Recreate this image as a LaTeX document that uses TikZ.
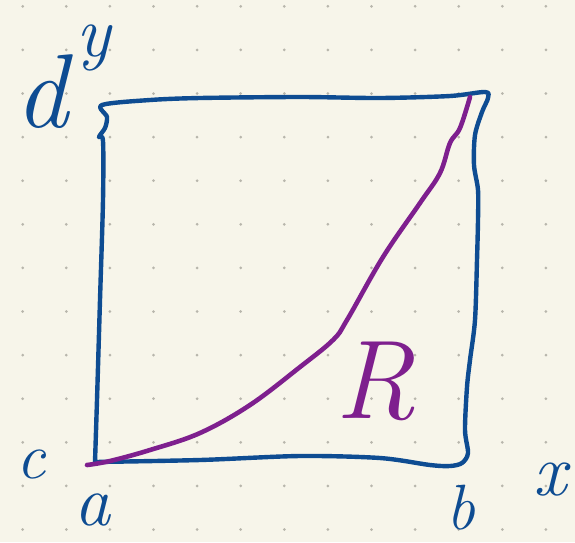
\documentclass[tikz,border=0pt]{standalone}
\usepackage{fontspec}
\definecolor{paper}{HTML}{F7F5EA}
\definecolor{ink}{HTML}{0E4C92}
\definecolor{violeta}{HTML}{7E1F8E}
\definecolor{dotgray}{HTML}{B8B6AC}
\tikzset{
  pen/.style={ink, line width=4.4pt, line cap=round, line join=round},
  hand/.style={ink, inner sep=0pt, font=\fontsize{#1}{#1}\selectfont\itshape},
}

\begin{document}
\begin{tikzpicture}[x=1pt, y=-1pt]
    % Folha pontilhada.
    \fill[paper] (0,0) rectangle (575,542);
    \useasboundingbox (0,0) rectangle (575,542);
    \foreach \i in {0,...,12} {
      \foreach \j in {0,...,12} {
        \fill[dotgray] (22.7+43.6*\i, 6.3+43.6*\j) circle (1.5pt);
      }
    }

    % Cantos do retângulo.
    \coordinate (tl) at (102,105);
    \coordinate (tr) at (485,92);
    \coordinate (br) at (462,463);
    \coordinate (bl) at (95,462);

    % Retângulo feito à mão.
    \draw[pen] plot[smooth, tension=0.5] coordinates {
      (bl) (97,400) (100,300) (103,200) (103,141) (99,137) (105,128) (107,117) (tl)
      (150,100) (200,98) (300,97) (380,98) (450,96) (tr) (488,98) (482,112)
      (475,135) (474,165) (478,190) (478,220) (477,260) (475,320) (470,360)
      (467,387) (465,430) (468,453) (br) (450,466) (430,465) (380,458)
      (300,456) (200,460) (bl)};

    % Região R.
    \coordinate (r0) at (87,465);
    \coordinate (r1) at (470,97);
    \draw[violeta, line width=4.6pt, line cap=round] plot[smooth, tension=0.6] coordinates {
      (r0) (110,461) (150,450) (200,433) (250,405) (300,367) (333,340) (347,320)
      (383,257) (420,203) (440,173) (450,143) (460,128) (r1)};

    % Rótulos.
    \node[hand=72] (ylab) at (94,48) {y};
    \node[hand=105] (dlab) at (42,92) {d};
    \node[hand=65] (clab) at (31,464) {c};
    \node[hand=72] (alab) at (92,510) {a};
    \node[hand=64] (blab) at (461,508) {b};
    \node[hand=74] (xlab) at (550,480) {x};
    \node[hand=112, violeta] (rlab) at (375,381) {R};
\end{tikzpicture}
\end{document}
